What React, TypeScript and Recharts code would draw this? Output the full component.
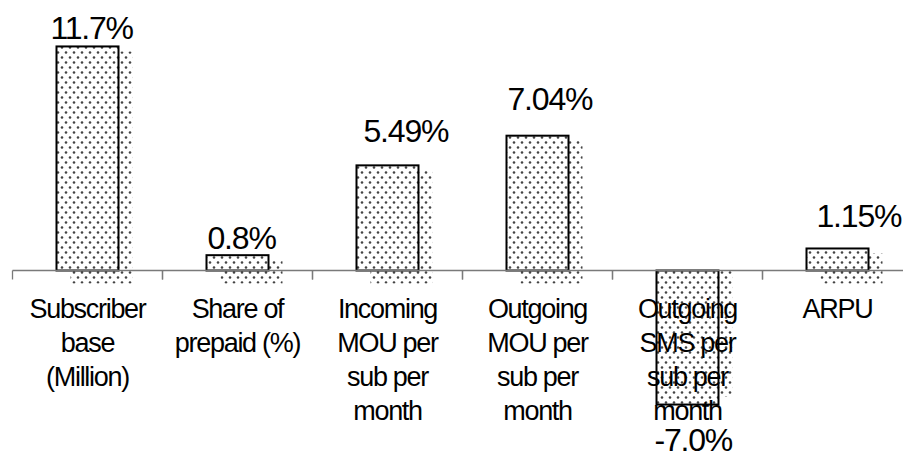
import React from "react";
import { BarChart, Bar, XAxis, YAxis, ReferenceLine, LabelList } from "recharts";

// ---- data ----
const categories = [
  "Subscriber\nbase\n(Million)",
  "Share of\nprepaid (%)",
  "Incoming\nMOU per\nsub per\nmonth",
  "Outgoing\nMOU per\nsub per\nmonth",
  "Outgoing\nSMS per\nsub per\nmonth",
  "ARPU",
];
const growth = [11.7, 0.8, 5.49, 7.04, -7.0, 1.15];
const valueLabels = ["11.7%", "0.8%", "5.49%", "7.04%", "-7.0%", "1.15%"];
const yDomain = [-8, 12];

const data = categories.map((c, i) => ({
  category: c,
  value: growth[i],
  label: valueLabels[i],
}));

// ---- style constants ----
const FONT = "'Liberation Sans', Arial, sans-serif";
const BAND = 150;
const LABEL_TWEAK = [
  { dx: -6, dy: -7 },
  { dx: 1, dy: -6 },
  { dx: 7, dy: -23 },
  { dx: 1, dy: -26 },
  { dx: -2, dy: 46 },
  { dx: 10, dy: -21 },
];

function geom(props: any) {
  const vb = props.viewBox || {};
  const x = props.x ?? vb.x;
  const y = props.y ?? vb.y;
  const width = props.width ?? vb.width;
  const height = props.height ?? vb.height;
  const top = Math.min(y, y + height);
  const bottom = Math.max(y, y + height);
  return { x, width, top, bottom };
}

const BarShape = (props: any) => {
  const { x, width, top, bottom } = geom(props);
  const h = bottom - top;
  const neg = props.payload && props.payload.value < 0;
  const shadow = neg
    ? { x: x + 14, y: top, w: width, h: Math.max(0, h - 8) }
    : { x: x + 14, y: top + 5, w: width, h: h + 8 };
  return (
    <g>
      <rect x={shadow.x} y={shadow.y} width={shadow.w} height={shadow.h} fill="url(#dots)" />
      <rect x={x} y={top} width={width} height={h} fill="#ffffff" />
      <rect x={x} y={top} width={width} height={h} fill="url(#dots)" stroke="#000" strokeWidth={2} />
    </g>
  );
};

const ValueLabel = (props: any) => {
  const { x, top, bottom } = geom(props);
  const i = props.index;
  const t = LABEL_TWEAK[i] || { dx: 0, dy: -8 };
  const neg = growth[i] < 0;
  const baseY = neg ? bottom + t.dy : top + t.dy;
  return (
    <text
      x={x + t.dx}
      y={baseY}
      textAnchor="start"
      fontFamily={FONT}
      fontSize={32}
      letterSpacing={-1.2}
      fill="#000"
    >
      {props.value}
    </text>
  );
};

const CategoryLabel = (props: any) => {
  const { x, width, top, bottom } = geom(props);
  const i = props.index;
  const zeroY = growth[i] < 0 ? top : bottom;
  const cx = x + width / 2;
  const lines = String(props.value).split("\n");
  return (
    <g>
      <line x1={cx - BAND / 2} x2={cx - BAND / 2} y1={zeroY} y2={zeroY + 9} stroke="#7a7a7a" strokeWidth={1.3} />
      <line x1={cx + BAND / 2} x2={cx + BAND / 2} y1={zeroY} y2={zeroY + 9} stroke="#7a7a7a" strokeWidth={1.3} />
      {lines.map((ln, k) => (
        <text
          key={k}
          x={cx}
          y={zeroY + 47.5 + k * 34}
          textAnchor="middle"
          fontFamily={FONT}
          fontSize={27}
          letterSpacing={-1.3}
          fill="#000"
        >
          {ln}
        </text>
      ))}
    </g>
  );
};

export default function App() {
  return (
    <div
      style={{
        position: "fixed",
        left: 0,
        top: 0,
        width: 903,
        height: 458,
        overflow: "hidden",
        background: "#fff",
      }}
    >
      <BarChart
        width={918}
        height={458}
        data={data}
        margin={{ top: 40.7, right: 5.5, bottom: 34.3, left: 12.5 }}
        barCategoryGap={0}
      >
        <defs>
          <pattern id="dots" width={8} height={10} patternUnits="userSpaceOnUse">
            <circle cx={2} cy={2.5} r={1.3} fill="#444" />
            <circle cx={6} cy={7.5} r={1.3} fill="#444" />
          </pattern>
        </defs>
        <XAxis dataKey="category" hide />
        <YAxis type="number" domain={yDomain} hide allowDataOverflow />
        <Bar
          dataKey="value"
          barSize={62}
          isAnimationActive={false}
          shape={BarShape}
        >
          <LabelList dataKey="label" content={ValueLabel} />
          <LabelList dataKey="category" content={CategoryLabel} />
        </Bar>
        <ReferenceLine y={0} stroke="#7a7a7a" strokeWidth={1.3} ifOverflow="extendDomain" />
      </BarChart>
    </div>
  );
}
